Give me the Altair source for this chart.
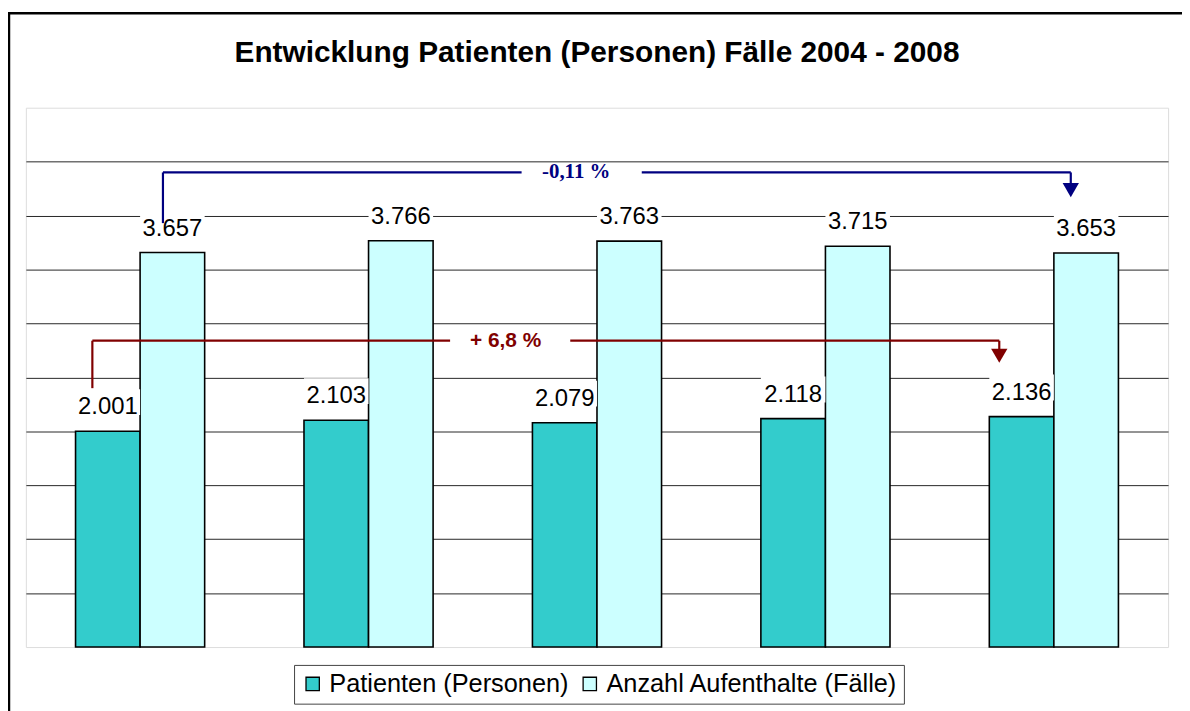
import altair as alt
import pandas as pd

# ---- data ----
years = ["2004", "2005", "2006", "2007", "2008"]
patienten = [2001, 2103, 2079, 2118, 2136]
aufenthalte = [3657, 3766, 3763, 3715, 3653]
series_names = ["Patienten (Personen)", "Anzahl Aufenthalte (Fälle)"]
series_colors = ["#33CCCC", "#CCFFFF"]
grid_values = [500, 1000, 1500, 2000, 2500, 3000, 3500, 4000, 4500]

# annotation (change arrows) in data units: x measured in category slots (0..5)
blue_text = "-0,11 %"
red_text = "+ 6,8 %"
blue_col = "#000080"
red_col = "#800000"
ann_segments = [
    # x, y, x2, y2, color
    (0.600, 3930, 0.600, 4400, blue_col),
    (0.600, 4400, 2.170, 4400, blue_col),
    (2.696, 4400, 4.574, 4400, blue_col),
    (4.574, 4400, 4.574, 4300, blue_col),
    (0.291, 2400, 0.291, 2840, red_col),
    (0.291, 2840, 1.857, 2840, red_col),
    (2.383, 2840, 4.261, 2840, red_col),
    (4.261, 2840, 4.261, 2760, red_col),
]
ann_heads = [(4.574, 4236, blue_col), (4.261, 2700, red_col)]
ann_blue_pos = (2.409, 4400)
ann_red_pos = (2.100, 2840)


def de_fmt(v):
    return f"{v:,}".replace(",", ".")


rows = []
for i, yr in enumerate(years):
    rows.append({"year": yr, "series": series_names[0], "value": patienten[i], "label": de_fmt(patienten[i])})
    rows.append({"year": yr, "series": series_names[1], "value": aufenthalte[i], "label": de_fmt(aufenthalte[i])})
df = pd.DataFrame(rows)

seg_df = pd.DataFrame(ann_segments, columns=["x", "y", "x2", "y2", "color"])
head_df = pd.DataFrame(ann_heads, columns=["x", "y", "color"])
blue_df = pd.DataFrame([{"x": ann_blue_pos[0], "y": ann_blue_pos[1], "t": blue_text}])
red_df = pd.DataFrame([{"x": ann_red_pos[0], "y": ann_red_pos[1], "t": red_text}])

FONT = "Liberation Sans"

y_scale = alt.Scale(domain=[0, 5000], nice=False, zero=True)
x_enc = alt.X("year:N", sort=years, axis=None,
              scale=alt.Scale(paddingInner=0.4348, paddingOuter=0.2174))
xo_enc = alt.XOffset("series:N", sort=series_names,
                     scale=alt.Scale(paddingInner=0, paddingOuter=0))

bars = alt.Chart(df).mark_bar(stroke="black", strokeWidth=1.6).encode(
    x=x_enc,
    xOffset=xo_enc,
    y=alt.Y("value:Q", scale=y_scale,
            axis=alt.Axis(values=grid_values, labels=False, ticks=False, domain=False,
                          grid=True, gridColor="#262626", gridWidth=1, title=None)),
    color=alt.Color("series:N", sort=series_names,
                    scale=alt.Scale(domain=series_names, range=series_colors),
                    legend=alt.Legend(title=None, orient="none", legendX=270, legendY=561,
                                      direction="horizontal", symbolType="square",
                                      symbolSize=180, symbolStrokeColor="black",
                                      symbolStrokeWidth=1.3, labelFont=FONT,
                                      labelFontSize=25.5, labelColor="black",
                                      labelLimit=500, labelOffset=4, columnPadding=8,
                                      padding=6, strokeColor="#444444",
                                      fillColor="white")),
)

label_bg = alt.Chart(df).transform_calculate(
    y0="datum.value + 150", y1="datum.value + 390"
).mark_bar(fill="white").encode(
    x=x_enc, xOffset=xo_enc,
    y=alt.Y("y0:Q", scale=y_scale), y2="y1:Q",
)

labels = alt.Chart(df).mark_text(
    font=FONT, fontSize=24, color="black", baseline="alphabetic", dy=-17
).encode(
    x=x_enc, xOffset=xo_enc,
    y=alt.Y("value:Q", scale=y_scale),
    text="label:N",
)

ax = alt.Scale(domain=[0, 5], nice=False, zero=False)

segs = alt.Chart(seg_df).mark_rule(strokeWidth=2.2).encode(
    x=alt.X("x:Q", scale=ax, axis=None), x2="x2:Q",
    y=alt.Y("y:Q", scale=y_scale), y2="y2:Q",
    stroke=alt.Stroke("color:N", scale=None),
)

heads = alt.Chart(head_df).mark_point(shape="triangle-down", filled=True, size=270,
                                      opacity=1, strokeWidth=0).encode(
    x=alt.X("x:Q", scale=ax, axis=None),
    y=alt.Y("y:Q", scale=y_scale),
    fill=alt.Fill("color:N", scale=None),
)

blue_lbl = alt.Chart(blue_df).mark_text(
    font="Liberation Serif", fontWeight="bold", fontSize=21, color=blue_col, baseline="middle"
).encode(x=alt.X("x:Q", scale=ax, axis=None), y=alt.Y("y:Q", scale=y_scale), text="t:N")

red_lbl = alt.Chart(red_df).mark_text(
    font=FONT, fontWeight="bold", fontSize=21, color=red_col, baseline="middle"
).encode(x=alt.X("x:Q", scale=ax, axis=None), y=alt.Y("y:Q", scale=y_scale), text="t:N")

frame = alt.Chart(pd.DataFrame({"a": [0]})).mark_rect(
    fill="transparent", stroke="black", strokeWidth=2.5
).encode(x=alt.value(-17), x2=alt.value(1185), y=alt.value(-95), y2=alt.value(620))

chart = alt.layer(
    bars, label_bg, labels, segs, heads, blue_lbl, red_lbl, frame
).resolve_scale(x="independent").properties(
    width=1150, height=543,
    title=alt.Title("Entwicklung Patienten (Personen) Fälle 2004 - 2008",
                    font=FONT, fontSize=30, fontWeight="bold", color="black",
                    anchor="middle", offset=-56),
    autosize=alt.AutoSizeParams(type="none"),
    padding={"left": 18, "top": 98, "right": 14, "bottom": 62},
).configure_view(stroke="#888888", strokeWidth=2).configure(background="white")

chart.save("out.html", embed_options={"renderer": "svg", "actions": False})
